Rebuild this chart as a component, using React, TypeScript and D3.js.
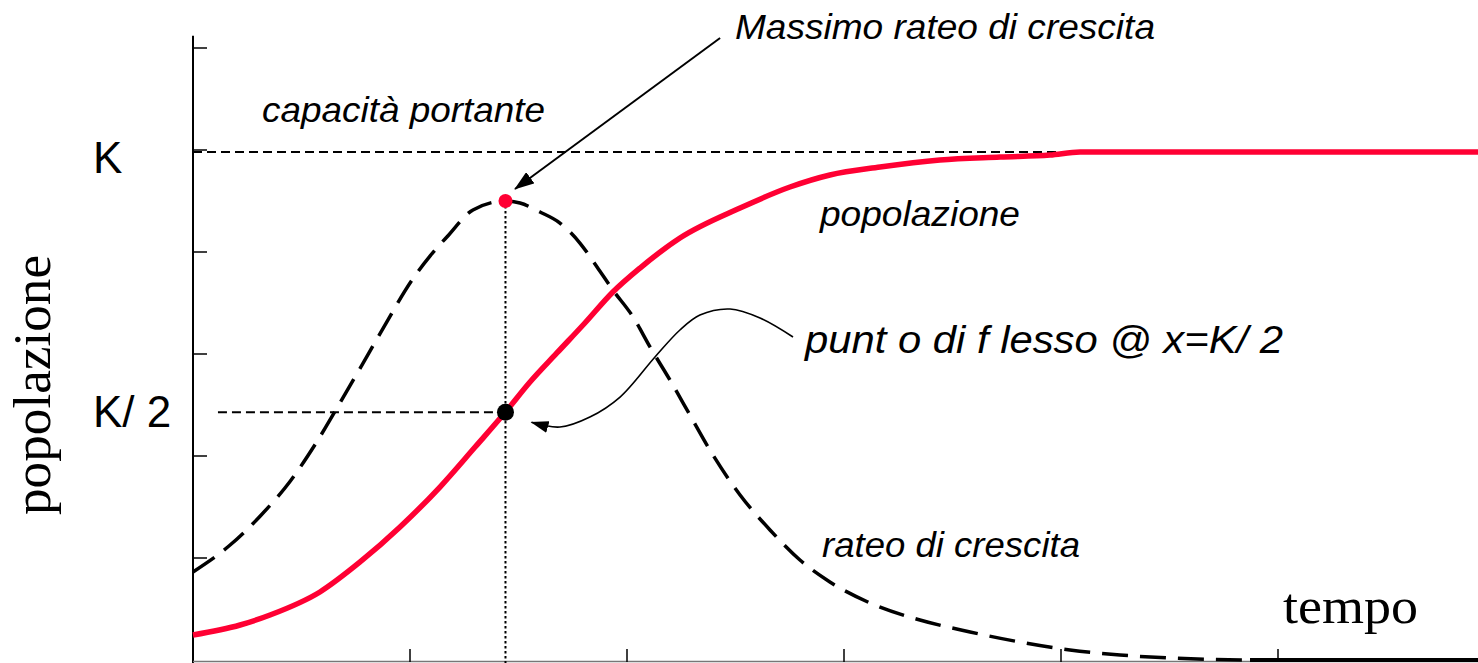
import React, { useEffect } from "react";
import * as d3 from "d3";

// asse x: tempo (unità arbitrarie), asse y: popolazione
const timeTicks = [0, 1, 2, 3, 4, 5];
const popTicks = [1, 2, 3, 4, 5, 6];

const K = 4.98;
const halfK = 2.43;
const tFlesso = 1.44;
const rateoMax = 4.5;

// curva logistica (rossa)
const popolazione: [number, number][] = [
  [0, 0.245], [0.217, 0.343], [0.355, 0.441], [0.585, 0.667], [0.77, 0.961],
  [0.954, 1.304], [1.138, 1.696], [1.3, 2.088], [1.44, 2.431], [1.553, 2.725],
  [1.677, 3.01], [1.806, 3.304], [1.935, 3.608], [2.06, 3.843], [2.244, 4.137],
  [2.521, 4.431], [2.751, 4.637], [2.935, 4.755], [3.166, 4.833], [3.442, 4.902],
  [3.719, 4.931], [3.949, 4.951], [4.088, 4.98], [5.95, 4.98],
];

// rateo di crescita (tratteggiata)
const rateo: [number, number][] = [
  [0, 0.863], [0.171, 1.127], [0.309, 1.41], [0.447, 1.75], [0.562, 2.11],
  [0.677, 2.52], [0.77, 2.86], [0.862, 3.2], [1.014, 3.74], [1.092, 3.96],
  [1.171, 4.15], [1.29, 4.412], [1.44, 4.5], [1.507, 4.48], [1.599, 4.392],
  [1.691, 4.284], [1.783, 4.088], [1.862, 3.853], [1.935, 3.627], [2.028, 3.363],
  [2.106, 3.069], [2.198, 2.745], [2.29, 2.402], [2.382, 2.059], [2.521, 1.618],
  [2.659, 1.275], [2.797, 0.98], [2.935, 0.765], [3.12, 0.559], [3.35, 0.392],
  [3.581, 0.275], [3.811, 0.176], [4.041, 0.098], [4.272, 0.049], [4.502, 0.02],
  [4.871, 0.0],
];
const rateoCoda: [number, number][] = [[4.871, 0.0], [5.95, 0.0]];

// freccia dritta verso il massimo
const frecciaMassimo: [number, number][] = [[2.429, 6.098], [1.484, 4.618]];
// freccia curva verso il flesso
const frecciaFlesso: [number, number][] = [
  [2.765, 3.167], [2.613, 3.353], [2.475, 3.441], [2.336, 3.382], [2.244, 3.235],
  [2.129, 2.971], [1.968, 2.578], [1.829, 2.382], [1.691, 2.284], [1.56, 2.33],
];

const W = 1478;
const H = 663;

export default function App() {
  useEffect(() => {
    document.body.style.margin = "0";
    document.body.style.overflow = "hidden";
  }, []);

  const x = d3.scaleLinear().domain([0, 6]).range([193, 1495]);
  const y = d3.scaleLinear().domain([0, 6]).range([660, 48]);

  const line = d3
    .line<[number, number]>()
    .x((d) => x(d[0]))
    .y((d) => y(d[1]))
    .curve(d3.curveMonotoneX);
  const lineBasis = d3
    .line<[number, number]>()
    .x((d) => x(d[0]))
    .y((d) => y(d[1]))
    .curve(d3.curveCatmullRom);
  const straight = d3
    .line<[number, number]>()
    .x((d) => x(d[0]))
    .y((d) => y(d[1]));

  const sans = "'Liberation Sans', Arial, sans-serif";
  const serif = "'Liberation Serif', 'Times New Roman', serif";
  const red = "#ff0033";

  return (
    <svg width={W} height={H} style={{ position: "absolute", left: 0, top: 0, background: "#fff" }}>
      <defs>
        <marker id="head1" viewBox="0 0 20 14" refX="19" refY="7" markerWidth="20" markerHeight="14"
          markerUnits="userSpaceOnUse" orient="auto">
          <path d="M0,0 L20,7 L0,14 Z" fill="#000" />
        </marker>
        <marker id="head2" viewBox="0 0 18 12" refX="17" refY="6" markerWidth="18" markerHeight="12"
          markerUnits="userSpaceOnUse" orient="auto">
          <path d="M0,0 L18,6 L0,12 Z" fill="#000" />
        </marker>
      </defs>

      {/* assi */}
      <line x1={x(0)} x2={x(0)} y1={y(6.12)} y2={H} stroke="#000" strokeWidth={2} />
      <line x1={x(0)} x2={W} y1={661.5} y2={661.5} stroke="#777" strokeWidth={1.5} />
      {popTicks.map((v) => (
        <line key={"yt" + v} x1={x(0)} x2={x(0) + 14} y1={y(v)} y2={y(v)} stroke="#000" strokeWidth={1.5} />
      ))}
      {timeTicks.slice(1).map((t) => (
        <line key={"xt" + t} x1={x(t)} x2={x(t)} y1={662} y2={649} stroke="#000" strokeWidth={1.5} />
      ))}

      {/* linee di riferimento */}
      <line x1={x(0)} x2={W} y1={y(K)} y2={y(K)} stroke="#000" strokeWidth={2} strokeDasharray="9 5" />
      <line x1={x(0.115)} x2={x(tFlesso)} y1={y(halfK)} y2={y(halfK)} stroke="#000" strokeWidth={2}
        strokeDasharray="9 5" />
      <line x1={x(tFlesso)} x2={x(tFlesso)} y1={y(rateoMax)} y2={H} stroke="#000" strokeWidth={2}
        strokeDasharray="2.5 2.5" />

      {/* rateo di crescita */}
      <path d={line(rateo) || ""} fill="none" stroke="#000" strokeWidth={3.5} strokeDasharray="26 12" />
      <path d={line(rateoCoda) || ""} fill="none" stroke="#000" strokeWidth={4} />

      {/* popolazione */}
      <path d={line(popolazione) || ""} fill="none" stroke={red} strokeWidth={5.5} />

      {/* punti */}
      <circle cx={x(tFlesso)} cy={y(rateoMax)} r={7} fill={red} />
      <circle cx={x(tFlesso)} cy={y(halfK)} r={8.5} fill="#000" />

      {/* frecce */}
      <path d={straight(frecciaMassimo) || ""} fill="none" stroke="#000" strokeWidth={2} markerEnd="url(#head1)" />
      <path d={lineBasis(frecciaFlesso) || ""} fill="none" stroke="#000" strokeWidth={1.6} markerEnd="url(#head2)" />

      {/* testi */}
      <text x={735} y={39} fontFamily={sans} fontStyle="italic" fontSize={35} textLength={420}
        lengthAdjust="spacingAndGlyphs">Massimo rateo di crescita</text>
      <text x={262} y={122} fontFamily={sans} fontStyle="italic" fontSize={35} textLength={283}
        lengthAdjust="spacingAndGlyphs">capacità portante</text>
      <text x={820} y={226} fontFamily={sans} fontStyle="italic" fontSize={35} textLength={200}
        lengthAdjust="spacingAndGlyphs">popolazione</text>
      <text x={805} y={353} fontFamily={sans} fontStyle="italic" fontSize={38} textLength={478}
        lengthAdjust="spacingAndGlyphs">punt o di f lesso @ x=K/ 2</text>
      <text x={822} y={557} fontFamily={sans} fontStyle="italic" fontSize={35} textLength={258}
        lengthAdjust="spacingAndGlyphs">rateo di crescita</text>

      <text x={93} y={173} fontFamily={sans} fontSize={44}>K</text>
      <text x={93} y={427} fontFamily={sans} fontSize={44}>K/ 2</text>

      <text x={1283} y={623} fontFamily={serif} fontSize={50} textLength={135}
        lengthAdjust="spacingAndGlyphs">tempo</text>
      <text transform={`translate(50, 385) rotate(-90)`} textAnchor="middle" fontFamily={serif} fontSize={52}
        textLength={260} lengthAdjust="spacingAndGlyphs">popolazione</text>
    </svg>
  );
}
